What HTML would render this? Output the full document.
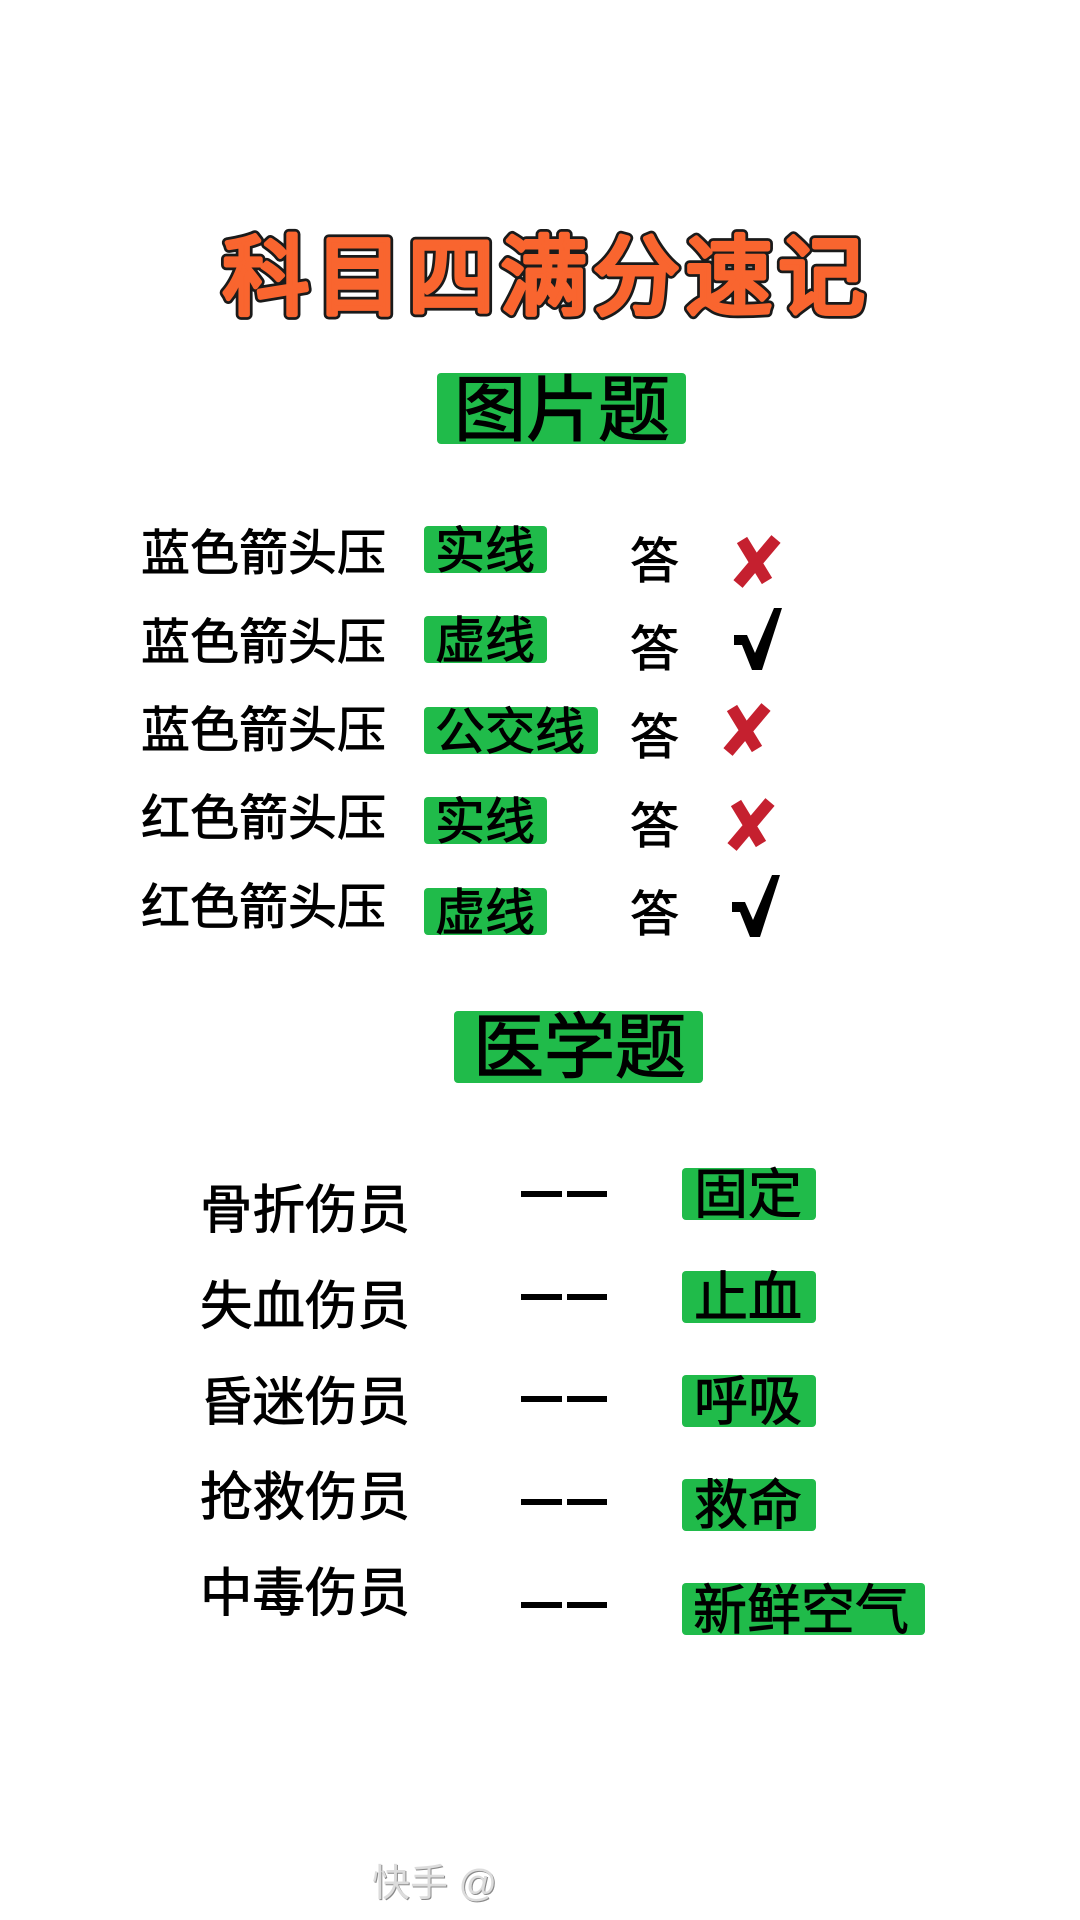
<!DOCTYPE html>
<html lang="zh"><head><meta charset="utf-8">
<style>
html,body{margin:0;padding:0;background:#fff}
#p{position:relative;width:1080px;height:1920px;overflow:hidden;background:#fff;font-family:"Liberation Sans","Noto Sans CJK SC",sans-serif;color:#000}
.t{position:absolute;line-height:1;white-space:nowrap;-webkit-text-stroke:.9px #000}
.h{-webkit-text-stroke:1.3px #000}
.g{position:absolute;background:#20bb4a;border-radius:4px}
.d{position:absolute;background:#000;height:6px}
svg{position:absolute;left:0;top:0}
</style></head><body><div id="p">

<div class="g" style="left:437px;top:373px;width:249px;height:71px"></div>
<div class="t h" style="left:454px;top:375px;font-size:72px">图片题</div>

<div class="t" style="left:141px;top:530px;font-size:49px">蓝色箭头压</div>
<div class="t" style="left:141px;top:619px;font-size:49px">蓝色箭头压</div>
<div class="t" style="left:141px;top:707px;font-size:49px">蓝色箭头压</div>
<div class="t" style="left:141px;top:795px;font-size:49px">红色箭头压</div>
<div class="t" style="left:141px;top:884px;font-size:49px">红色箭头压</div>

<div class="g" style="left:424px;top:526px;width:123px;height:47px"></div>
<div class="g" style="left:424px;top:616px;width:123px;height:47px"></div>
<div class="g" style="left:424px;top:707px;width:174px;height:47px"></div>
<div class="g" style="left:424px;top:797px;width:123px;height:47px"></div>
<div class="g" style="left:424px;top:888px;width:123px;height:47px"></div>
<div class="t" style="left:435px;top:526px;font-size:50px">实线</div>
<div class="t" style="left:435px;top:616px;font-size:50px">虚线</div>
<div class="t" style="left:435px;top:707px;font-size:50px">公交线</div>
<div class="t" style="left:435px;top:797px;font-size:50px">实线</div>
<div class="t" style="left:435px;top:888px;font-size:50px">虚线</div>

<div class="t" style="left:630px;top:538px;font-size:49px">答</div>
<div class="t" style="left:630px;top:626px;font-size:49px">答</div>
<div class="t" style="left:630px;top:714px;font-size:49px">答</div>
<div class="t" style="left:630px;top:803px;font-size:49px">答</div>
<div class="t" style="left:630px;top:891px;font-size:49px">答</div>

<svg width="1080" height="1920" viewBox="0 0 1080 1920">
<text x="222.5" y="307.5" font-size="87" letter-spacing="5.6" font-family="'Liberation Sans','Noto Sans CJK SC',sans-serif" fill="#1a1a1a" stroke="#1a1a1a" stroke-width="10.5" stroke-linejoin="round">科目四满分速记</text>
<text x="222.5" y="307.5" font-size="87" letter-spacing="5.6" font-family="'Liberation Sans','Noto Sans CJK SC',sans-serif" fill="#f9652f" stroke="#f9652f" stroke-width="5" stroke-linejoin="round">科目四满分速记</text>
<g stroke="#c5202f" stroke-width="12" fill="none">
<path d="M742 540 L767 581 M776 539 L738 584"/>
<path d="M732 708 L757 749 M766 707 L728 752"/>
<path d="M736 803 L761 844 M770 802 L732 847"/>
</g>
<path d="M734 635 L747 635 L755 653 L774 608 L782 608 L762 670 L752 670 L742 645 L734 645 Z" fill="#000"/>
<path d="M732 902 L745 902 L753 920 L772 875 L780 875 L760 937 L750 937 L740 912 L732 912 Z" fill="#000"/>
</svg>

<div class="g" style="left:454px;top:1011px;width:249px;height:72px"></div>
<div class="t h" style="left:473px;top:1013px;font-size:71px">医学题</div>

<div class="t" style="left:200px;top:1185px;font-size:52.5px">骨折伤员</div>
<div class="t" style="left:200px;top:1281px;font-size:52.5px">失血伤员</div>
<div class="t" style="left:200px;top:1377px;font-size:52.5px">昏迷伤员</div>
<div class="t" style="left:200px;top:1472px;font-size:52.5px">抢救伤员</div>
<div class="t" style="left:200px;top:1568px;font-size:52.5px">中毒伤员</div>

<div class="d" style="left:521px;width:41px;top:1191px"></div><div class="d" style="left:567px;width:40px;top:1191px"></div>
<div class="d" style="left:521px;width:41px;top:1294px"></div><div class="d" style="left:567px;width:40px;top:1294px"></div>
<div class="d" style="left:521px;width:41px;top:1396px"></div><div class="d" style="left:567px;width:40px;top:1396px"></div>
<div class="d" style="left:521px;width:41px;top:1499px"></div><div class="d" style="left:567px;width:40px;top:1499px"></div>
<div class="d" style="left:521px;width:41px;top:1602px"></div><div class="d" style="left:567px;width:40px;top:1602px"></div>

<div class="g" style="left:682px;top:1168px;width:134px;height:52px"></div>
<div class="g" style="left:682px;top:1271px;width:134px;height:52px"></div>
<div class="g" style="left:682px;top:1375px;width:134px;height:52px"></div>
<div class="g" style="left:682px;top:1479px;width:134px;height:52px"></div>
<div class="g" style="left:682px;top:1583px;width:243px;height:52px"></div>
<div class="t" style="left:694px;top:1168px;font-size:54px">固定</div>
<div class="t" style="left:694px;top:1271px;font-size:54px">止血</div>
<div class="t" style="left:694px;top:1375px;font-size:54px">呼吸</div>
<div class="t" style="left:694px;top:1479px;font-size:54px">救命</div>
<div class="t" style="left:693px;top:1584px;font-size:54px">新鲜空气</div>

<div class="t" style="left:372px;top:1865px;font-size:38px;color:#dcdcdc;-webkit-text-stroke:0;text-shadow:1px 1px 0 #8a8a8a">快手 @</div>
</div></body></html>
